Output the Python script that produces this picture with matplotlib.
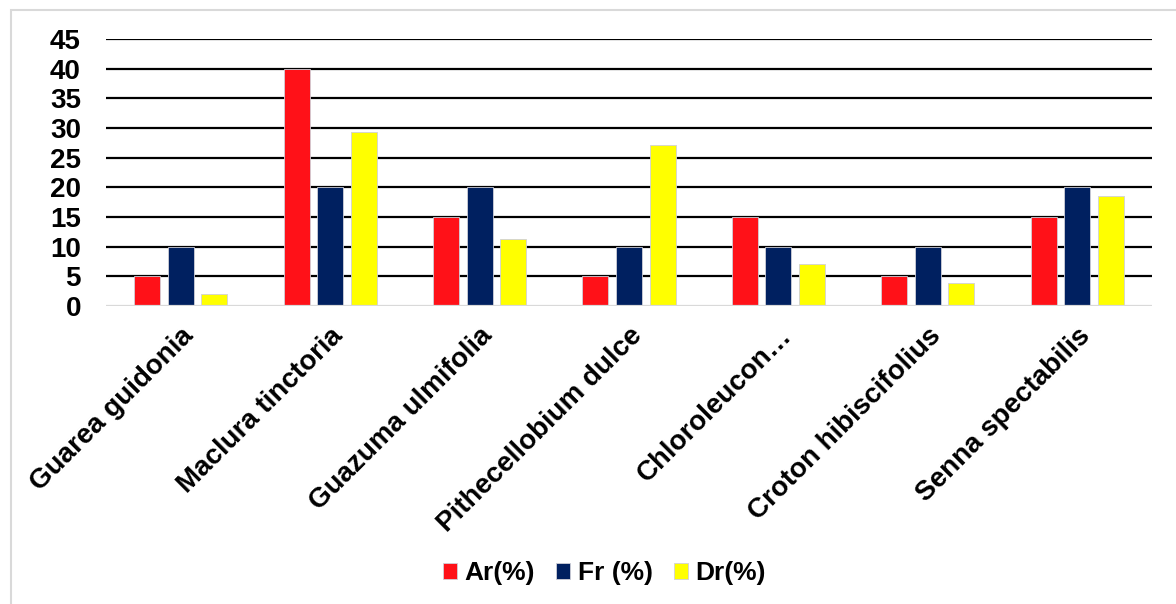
import matplotlib.pyplot as plt
import numpy as np
from matplotlib.patches import Rectangle

# Datos
especies = ['Guarea guidonia', 'Maclura tinctoria', 'Guazuma ulmifolia',
            'Pithecellobium dulce', 'Chloroleucon…', 'Croton hibiscifolius',
            'Senna spectabilis']
ar = [5, 40, 15, 5, 15, 5, 15]
fr = [10, 20, 20, 10, 10, 10, 20]
dr = [2.0, 29.4, 11.3, 27.1, 7.0, 3.9, 18.5]
series = ['Ar(%)', 'Fr (%)', 'Dr(%)']
colores = ['#FF1118', '#002060', '#FFFF00']
yticks = [0, 5, 10, 15, 20, 25, 30, 35, 40, 45]

plt.rcParams['font.family'] = ['Liberation Sans', 'DejaVu Sans']
plt.rcParams['font.weight'] = 'bold'

fig = plt.figure(figsize=(11.76, 6.04), dpi=100)
ax = fig.add_axes([106/1176, 1-306/604, (1152-106)/1176, (306-39)/604])

x = np.arange(len(especies))
ancho = 0.174
paso = 0.225
for i, (vals, nombre) in enumerate(zip([ar, fr, dr], series)):
    ax.bar(x + (i-1)*paso, vals, width=ancho, color=colores[i], label=nombre, zorder=3,
           edgecolor='#d0d0d8', linewidth=0.6)

ax.set_ylim(0, 45)
ax.set_xlim(-0.5, len(especies)-0.5)
ax.set_yticks(yticks)
for t in yticks[1:]:
    ax.axhline(t, color='black', linewidth=1.6, zorder=1)
ax.axhline(0, color='#d9d9d9', linewidth=1.6, zorder=4)
for s in ax.spines.values():
    s.set_visible(False)
ax.tick_params(axis='both', length=0, labelsize=20)
ax.tick_params(axis='y', pad=18)
ax.set_xticks(x)
ax.set_xticklabels(especies, rotation=45, ha='right', rotation_mode='anchor', fontsize=20)
ax.tick_params(axis='x', pad=12)

fig.legend(loc='center', bbox_to_anchor=(0.514, 0.051), ncol=3, frameon=False,
           fontsize=19, handlelength=0.53, handleheight=0.53, handletextpad=0.27,
           columnspacing=0.83)

# Borde gris del area del grafico
fig.patches.append(Rectangle((11/1176, -0.1), 1.2, 1-10/604+0.1, transform=fig.transFigure,
                             fill=False, edgecolor='#d9d9d9', linewidth=1.5))

fig.savefig('out.png', dpi=100)
